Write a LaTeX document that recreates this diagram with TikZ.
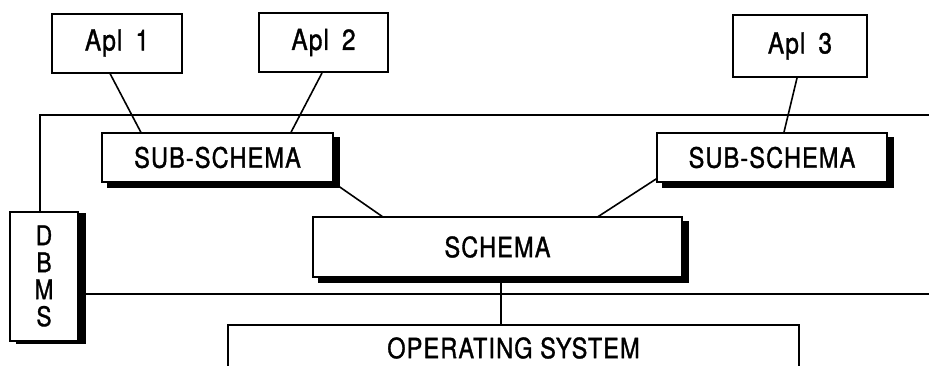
\documentclass[tikz,border=0pt]{standalone}
\usepackage{fontspec}
\setmainfont{TeX Gyre Heros}[LetterSpace=4,FakeBold=1.2,FakeStretch=0.84]
\begin{document}
\begin{tikzpicture}[x=1pt,y=-1pt,line width=2pt,
  box/.style={draw,fill=white,rectangle,inner sep=0pt,font=\fontsize{28}{28}\selectfont},
  aplbox/.style={box,font=\fontsize{29}{30}\selectfont},
  shadowed/.style={preaction={fill=black,draw=black,transform canvas={xshift=6pt,yshift=-5pt}}},
  link/.style={line width=1.6pt}]
\useasboundingbox (0,0) rectangle (929,365);
% DBMS frame
\coordinate (ftl) at (40,115);
\coordinate (ftr) at (929,115);
\coordinate (fbr) at (929,294);
\node[box,minimum width=68pt,minimum height=129pt,align=center,
      preaction={fill=black,draw=black,transform canvas={xshift=7pt,yshift=-2pt}},
      font=\fontsize{27}{27}\selectfont] (dbms) at (44,276) {D\\B\\M\\S};
\draw (ftr) -- (ftl) -- (ftl |- dbms.north);
\draw (dbms.east |- fbr) -- (fbr);
% applications
\node[aplbox,minimum width=130pt,minimum height=59pt] (apl1) at (117,43) {Apl\hspace{0.45em}1};
\node[aplbox,minimum width=129pt,minimum height=59pt] (apl2) at (323.5,42.5) {Apl\hspace{0.45em}2};
\node[aplbox,minimum width=134pt,minimum height=62pt] (apl3) at (800,46) {Apl\hspace{0.45em}3};
% connectors (drawn before the boxes so boxes cover the ends)
\coordinate (s1) at (217.5,157.5);
\coordinate (s2) at (772,157.5);
\coordinate (sc) at (497.5,247);
\draw[link] ([xshift=-7pt]apl1.south) -- ([xshift=-50.5pt,yshift=-24.5pt]s1);
\draw[link] ([xshift=-1.5pt]apl2.south) -- ([xshift=47.5pt,yshift=-24.5pt]s1);
\draw[link] ([xshift=-3pt]apl3.south) -- ([yshift=-24.5pt]s2);
\draw[link] ([xshift=44.5pt,yshift=24.5pt]s1) -- ([xshift=-114.5pt,yshift=30pt]sc);
\draw[link] ([xshift=-45pt,yshift=24.5pt]s2) -- ([xshift=100pt,yshift=30pt]sc);
% sub-schemas and schema
\node[box,shadowed,minimum width=231pt,minimum height=49pt] (sub1) at (s1) {SUB-SCHEMA};
\node[box,shadowed,minimum width=230pt,minimum height=49pt] (sub2) at (s2) {SUB-SCHEMA};
\node[box,shadowed,minimum width=369pt,minimum height=60pt] (schema) at (sc) {SCHEMA};
% operating system (open at the bottom)
\node[box,draw=none,fill=none,minimum width=569pt,minimum height=44pt] (os) at (513.5,348) {OPERATING SYSTEM};
\draw (os.south west) -- (os.north west) -- (os.north east) -- (os.south east);
\draw[link] ([xshift=3.5pt]schema.south) -- ([xshift=3.5pt]schema.south |- os.north);
\end{tikzpicture}
\end{document}
